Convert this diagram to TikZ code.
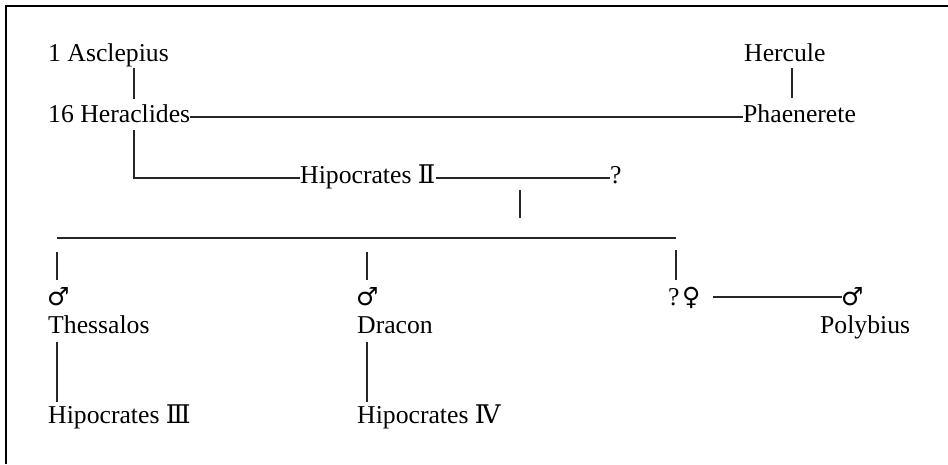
\documentclass[tikz,border=0pt]{standalone}
\usepackage{fontspec}
\setmainfont{Liberation Serif}
\newfontfamily\symfont{DejaVu Sans}
\newfontfamily\numfont{DejaVu Serif}
\begin{document}
\begin{tikzpicture}[x=1pt,y=-1pt,
  person/.style={anchor=base west,inner sep=0pt,font=\fontsize{25.7}{30}\selectfont},
  sex/.style={anchor=base west,inner sep=0pt,font=\symfont\fontsize{25}{28}\selectfont},
  link/.style={line width=1.3pt,draw=black!85}]
\useasboundingbox (0,0) rectangle (948,464);
% frame: top and left edges
\draw[line width=2.6pt] (6,464) -- (6,6) -- (948,6);

% ancestors
\node[person] (asc) at (48,61) {1 Asclepius};
\node[person] (her) at (48,122) {16 Heraclides};
\node[person] (herc) at (744,61) {Hercule};
\node[person] (pha) at (743,122) {Phaenerete};
\node[person] (hip2) at (300,183) {Hipocrates {\numfont Ⅱ}};
\node[person] (q1) at (610,183) {?};

% children
\node[sex] (m1) at (47,305) {♂};
\node[person] (thes) at (48,333) {Thessalos};
\node[person] (hip3) at (48,423) {Hipocrates {\numfont Ⅲ}};
\node[sex] (m2) at (356,305) {♂};
\node[person] (dra) at (357,333) {Dracon};
\node[person] (hip4) at (357,423) {Hipocrates {\numfont Ⅳ}};
\node[person] (q2) at (668,305) {?};
\node[sex] (f3) at (682,305) {♀};
\node[sex] (m4) at (841,305) {♂};
\node[person] (pol) at (820,333) {Polybius};

% junction points
\coordinate (a1) at (134,68);  \coordinate (a2) at (134,99);
\coordinate (h1) at (792,68);  \coordinate (h2) at (792,98);
\coordinate (d1) at (134,130);
\coordinate (c1) at (520,190); \coordinate (c2) at (520,218);
\coordinate (bl) at (57,238);  \coordinate (br) at (676,238);
\coordinate (t1) at (57,252);  \coordinate (t2) at (57,280);
\coordinate (r1) at (367,252); \coordinate (r2) at (367,280);
\coordinate (u1) at (676,250); \coordinate (u2) at (676,280);
\coordinate (s1) at (57,342);  \coordinate (s2) at (57,402);
\coordinate (e1) at (367,342); \coordinate (e2) at (367,402);
\coordinate (p1) at (713,297); \coordinate (p2) at (842,297);

% connectors
\draw[link] (a1) -- (a2);
\draw[link] (h1) -- (h2);
\draw[link] ([yshift=5pt]her.base east) -- ([yshift=5pt]pha.base west);
\draw[link] (d1) |- ([yshift=5pt]hip2.base west);
\draw[link] ([yshift=5pt]hip2.base east) -- ([yshift=5pt]q1.base west);
\draw[link] (c1) -- (c2);
\draw[link] (bl) -- (br);
\draw[link] (t1) -- (t2);
\draw[link] (r1) -- (r2);
\draw[link] (u1) -- (u2);
\draw[link] (s1) -- (s2);
\draw[link] (e1) -- (e2);
\draw[link] (p1) -- (p2);
\end{tikzpicture}
\end{document}
